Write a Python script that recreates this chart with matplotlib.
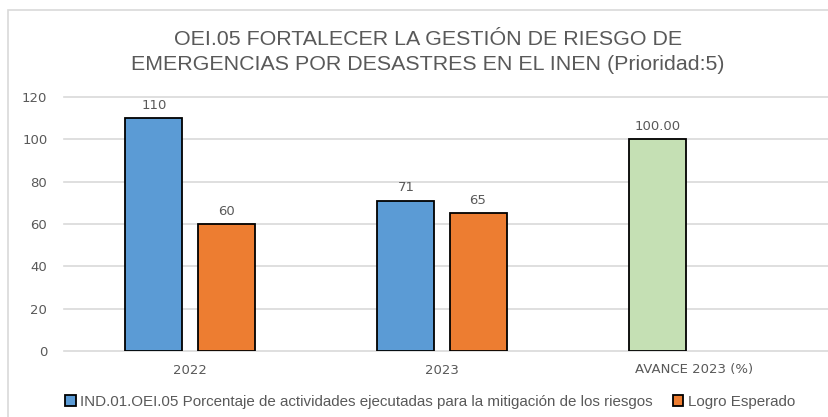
import matplotlib
matplotlib.use("Agg")
import matplotlib.pyplot as plt
from matplotlib.patches import Rectangle, Patch
import numpy as np

categories = ["2022", "2023", "AVANCE 2023 (%)"]
indicador = [110, 71, 100.00]
logro = [60, 65, None]
indicador_labels = ["110", "71", "100.00"]
logro_labels = ["60", "65", ""]
yticks = [0, 20, 40, 60, 80, 100, 120]
title = "OEI.05 FORTALECER LA GESTIÓN DE RIESGO DE\nEMERGENCIAS POR DESASTRES EN EL INEN (Prioridad:5)"
legend_labels = ["IND.01.OEI.05 Porcentaje de actividades ejecutadas para la mitigación de los riesgos",
                 "Logro Esperado"]

blue = "#5B9BD5"
orange = "#ED7D31"
green = "#C5E0B4"
txt = "#595959"

W, H = 829, 417
fig = plt.figure(figsize=(W/100, H/100), dpi=100)
ax = fig.add_axes([64/W, 1-351/H, (820-64)/W, (351-97)/H])

x = np.arange(len(categories))
bw = 0.226
off = 0.143
cols_ind = [blue, blue, green]
for i in range(len(categories)):
    ax.bar(x[i]-off, indicador[i], bw, color=cols_ind[i], edgecolor="black", linewidth=1.3, zorder=3)
    ax.text(x[i]-off, indicador[i]+3, indicador_labels[i], ha="center", va="bottom",
            fontsize=9.5, color=txt, family="DejaVu Sans")
    if logro[i] is not None:
        ax.bar(x[i]+off, logro[i], bw, color=orange, edgecolor="black", linewidth=1.3, zorder=3)
        ax.text(x[i]+off, logro[i]+3, logro_labels[i], ha="center", va="bottom",
                fontsize=9.5, color=txt, family="DejaVu Sans")

ax.set_xlim(-0.5, 2.5)
ax.set_ylim(0, 120)
ax.set_yticks(yticks)
ax.set_xticks(x)
ax.set_xticklabels(categories)
ax.tick_params(axis="both", length=0, colors=txt, labelsize=9.5)
ax.tick_params(axis="y", pad=12)
ax.tick_params(axis="x", pad=9)
# gridlines extend slightly beyond the plot on the right, like the reference
for yv in yticks:
    ax.plot([-0.5, 2.5 + 9/252], [yv, yv], color="#D9D9D9", linewidth=1.2, zorder=0, clip_on=False)
for s in ["top", "right", "left", "bottom"]:
    ax.spines[s].set_visible(False)

fig.text(428/W, 1-52/H, title, ha="center", va="center", fontsize=15.4, color=txt,
         family="Liberation Sans", linespacing=1.4)

handles = [Patch(facecolor=blue, edgecolor="black", linewidth=1.3),
           Patch(facecolor=orange, edgecolor="black", linewidth=1.3)]
fig.legend(handles, legend_labels, loc="center", bbox_to_anchor=(430/W, 1-402/H), ncol=2,
           frameon=False, handlelength=0.7, handleheight=0.7, handletextpad=0.3,
           columnspacing=1.3, prop={"family": "Liberation Sans", "size": 10.9},
           labelcolor=txt)

fig.patches.append(Rectangle((8/W, -0.1), 1.2, 1-10/H+0.1, transform=fig.transFigure,
                             fill=False, edgecolor="#D9D9D9", linewidth=1.2))

fig.savefig("out.png", dpi=100)
